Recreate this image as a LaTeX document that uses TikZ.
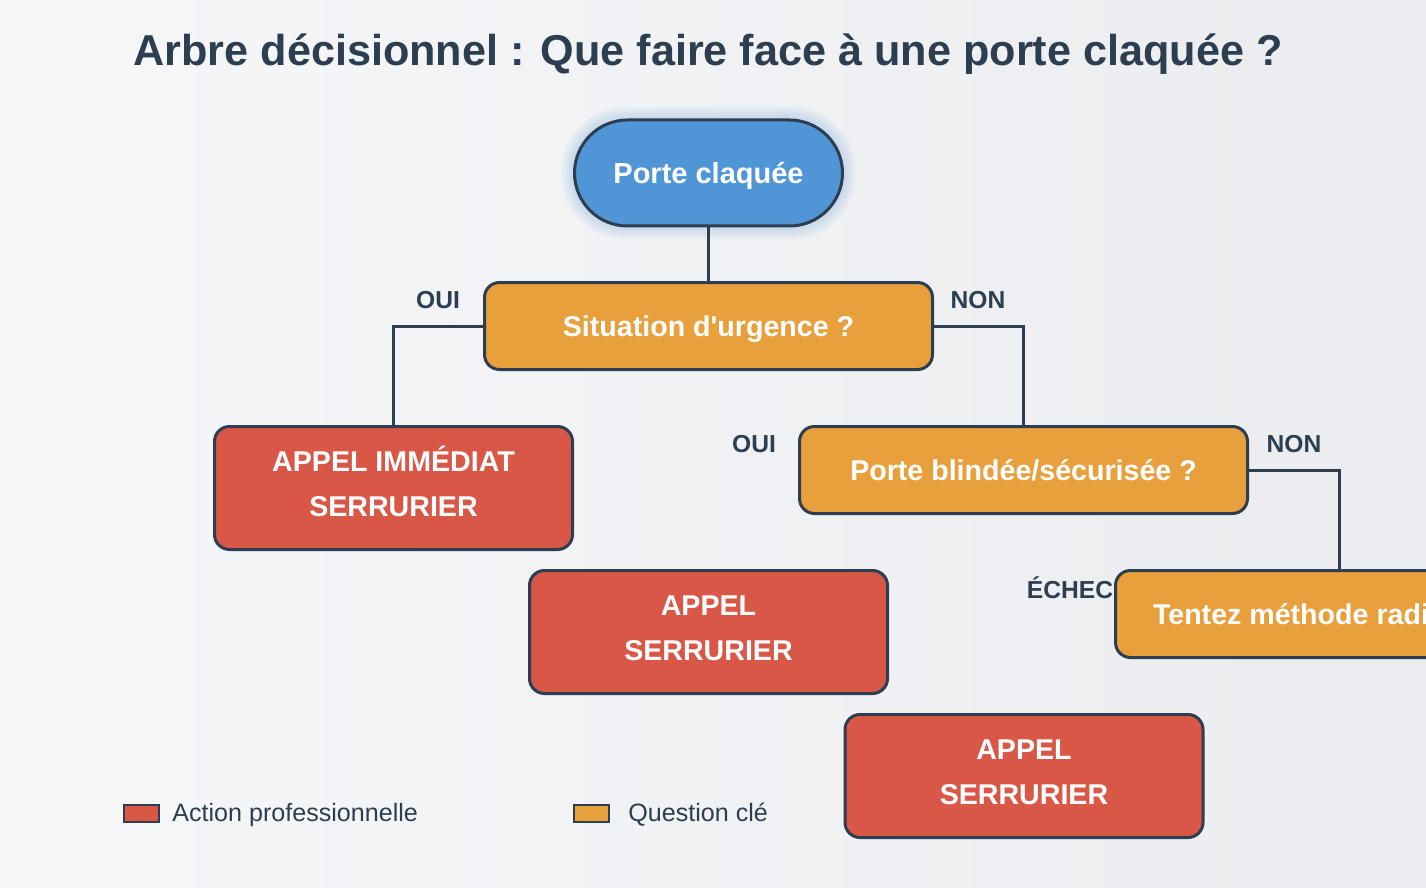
\documentclass[tikz,border=0pt]{standalone}
\usepackage{fontspec}
\setmainfont{Liberation Sans}
\usetikzlibrary{calc}
\definecolor{dark}{HTML}{2C3E50}
\definecolor{qblue}{HTML}{5096D6}
\definecolor{qorange}{HTML}{E8A03C}
\definecolor{ared}{HTML}{D95746}
\definecolor{bgA}{HTML}{F6F7F9}
\definecolor{bgC}{HTML}{EAECEF}
\pgfdeclarelayer{bg}
\pgfdeclarelayer{glow}
\pgfsetlayers{bg,glow,main}
\begin{document}
\begin{tikzpicture}[x=0.5pt,y=-0.5pt,
  box/.style={draw=dark, line width=1.5pt, text=white, align=center, inner sep=0pt,
    font=\bfseries\fontsize{14.3}{22.5}\selectfont},
  start/.style={box, fill=qblue, rounded corners=26.5pt, minimum width=134pt, minimum height=53pt,
    font=\bfseries\fontsize{14.5}{16}\selectfont, text depth=0pt},
  question/.style={box, fill=qorange, rounded corners=7.5pt, minimum width=224pt, minimum height=43.5pt,
    text depth=0pt},
  action/.style={box, fill=ared, rounded corners=7.5pt, minimum width=179pt, minimum height=61.5pt,
    text depth=6.5pt},
  lbl/.style={text=dark, font=\bfseries\fontsize{12.3}{14}\selectfont, inner sep=0pt},
  conn/.style={draw=dark, line width=1.5pt},
  swatch/.style={draw=dark, line width=1pt, minimum width=17.5pt, minimum height=8.5pt, inner sep=0pt},
  legtext/.style={text=dark, font=\fontsize{12.55}{14}\selectfont, anchor=west, inner sep=0pt}
]
\useasboundingbox (0,0) rectangle (1426,888);
\clip (0,0) rectangle (1426,888);
\begin{pgfonlayer}{bg}
\shade[left color=bgA, right color=bgC] (0,0) rectangle (1426,888);
\end{pgfonlayer}

\node[text=dark, font=\bfseries\fontsize{21.6}{26}\selectfont] (title) at (708,54)
  {Arbre décisionnel : Que faire face à une porte claquée ?};

\node[start] (top) at (708.5,173) {Porte claquée};
\begin{pgfonlayer}{glow}
\foreach \g in {2,4,...,12}{
  \fill[qblue, opacity=0.04, rounded corners=26.5pt+\g*0.5pt]
    ($(top.south west)+(-\g,\g)$) rectangle ($(top.north east)+(\g,-\g)$);
}
\end{pgfonlayer}

\node[question] (sit) at (708.5,326) {Situation d\textquotesingle urgence ?};
\node[action] (red1) at (393.5,488) {APPEL IMMÉDIAT\\SERRURIER};
\node[question] (blinde) at (1023.5,470) {Porte blindée/sécurisée ?};
\node[action] (red2) at (708.5,632) {\vphantom{É}APPEL\\SERRURIER};
\node[lbl] (echec) at (1070,588) {ÉCHEC};
\node[question] (tentez) at (1339.5,614) {\makebox[186.5pt][l]{Tentez méthode radiographie}};
\node[action] (red3) at (1024,776) {\vphantom{É}APPEL\\SERRURIER};

\node[lbl] (l1) at (438,300) {OUI};
\node[lbl] (l2) at (978,300) {NON};
\node[lbl] (l3) at (754,444) {OUI};
\node[lbl] (l4) at (1294,444) {NON};

\draw[conn] (top.south) -- (sit.north);
\draw[conn] (sit.west) -| (red1.north);
\draw[conn] (sit.east) -| (blinde.north);
\draw[conn] (blinde.east) -| (tentez.north);

\node[swatch, fill=ared] (sw1) at (141,813) {};
\node[legtext] (lt1) at (172,815) {Action professionnelle};
\node[swatch, fill=qorange] (sw2) at (591,813) {};
\node[legtext] (lt2) at (628,815) {Question clé};
\end{tikzpicture}
\end{document}
